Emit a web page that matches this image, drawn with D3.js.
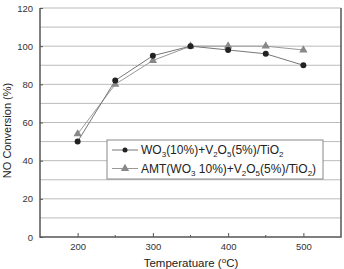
<!DOCTYPE html>
<html><head><meta charset="utf-8">
<script src="https://cdn.jsdelivr.net/npm/d3@7"></script>
<style>body{margin:0;background:#fff}svg{display:block;font-family:"Liberation Sans",Arial,sans-serif}</style>
</head><body><svg id="c" width="344" height="269"></svg>
<script>
const temps = [200, 250, 300, 350, 400, 450, 500];
const wo3 = [50, 82, 95, 100, 98, 96, 90];
const amt = [54, 80, 92.5, 100, 100, 100, 98];
const xTicks = [200, 300, 400, 500];
const xMinor = [250, 350, 450];
const yTicks = [0, 20, 40, 60, 80, 100, 120];

const svg = d3.select("#c");
const L = 40, R = 341, T = 8, B = 237;
const x = d3.scaleLinear().domain([150, 550]).range([L, R]);
const y = d3.scaleLinear().domain([0, 120]).range([B, T]);

// gridlines every 10
svg.append("g").selectAll("line").data(d3.range(10, 121, 10)).join("line")
  .attr("x1", L).attr("x2", R).attr("y1", d => y(d)).attr("y2", d => y(d))
  .attr("stroke", "#bbb").attr("stroke-width", 1);

// frame
svg.append("path").attr("d", `M${L},${T}V${B}H${R}V${T}`).attr("fill", "none")
  .attr("stroke", "#555").attr("stroke-width", 1.5);

// x axis
const xa = svg.append("g").attr("transform", `translate(0,${B})`)
  .call(d3.axisBottom(x).tickValues(xTicks).tickSize(-4).tickPadding(6));
xa.select(".domain").remove();
xa.selectAll("line").attr("stroke", "#555");
xa.selectAll("text").attr("font-size", 9.5).attr("fill", "#333");
svg.append("g").selectAll("line").data(xMinor).join("line")
  .attr("x1", d => x(d)).attr("x2", d => x(d)).attr("y1", B).attr("y2", B - 2)
  .attr("stroke", "#555");

// y axis
const ya = svg.append("g").attr("transform", `translate(${L},0)`)
  .call(d3.axisLeft(y).tickValues(yTicks).tickSize(-3).tickPadding(7));
ya.select(".domain").remove();
ya.selectAll("line").attr("stroke", "#555");
ya.selectAll("text").attr("font-size", 9.5).attr("fill", "#333");

// axis titles
const xt = svg.append("text").attr("x", 191).attr("y", 267)
  .attr("text-anchor", "middle").attr("font-size", 11.5).attr("fill", "#222");
xt.append("tspan").text("Temperatuare (");
xt.append("tspan").text("o").attr("font-size", 8).attr("dy", -4);
xt.append("tspan").text("C)").attr("dy", 4);

svg.append("text").attr("transform", `translate(11,${(T + B) / 2 + 8}) rotate(-90)`)
  .attr("text-anchor", "middle").attr("font-size", 11).attr("fill", "#222")
  .text("NO Conversion (%)");

// lines
const line = d3.line().x((d, i) => x(temps[i])).y(d => y(d));
svg.append("path").datum(amt).attr("d", line).attr("fill", "none").attr("stroke", "#999").attr("stroke-width", 1);
svg.append("path").datum(wo3).attr("d", line).attr("fill", "none").attr("stroke", "#777").attr("stroke-width", 1);

const tri = d3.symbol().type(d3.symbolTriangle).size(30);
svg.append("g").selectAll("path").data(amt).join("path")
  .attr("d", tri).attr("transform", (d, i) => `translate(${x(temps[i])},${y(d)})`).attr("fill", "#888");
svg.append("g").selectAll("circle").data(wo3).join("circle")
  .attr("cx", (d, i) => x(temps[i])).attr("cy", d => y(d)).attr("r", 3).attr("fill", "#222");

// legend
const lg = svg.append("g");
lg.append("rect").attr("x", 107).attr("y", 140).attr("width", 216).attr("height", 39)
  .attr("fill", "#fff").attr("stroke", "#888").attr("stroke-width", 1);
const items = [
  {c: "#777", m: "circle", parts: [["WO",0],["3",1],["(10%)+V",0],["2",1],["O",0],["5",1],["(5%)/TiO",0],["2",1]]},
  {c: "#999", m: "tri", parts: [["AMT(WO",0],["3",1],[" 10%)+V",0],["2",1],["O",0],["5",1],["(5%)/TiO",0],["2",1],[")",0]]}
];
items.forEach((it, k) => {
  const yy = 150 + k * 18.5;
  lg.append("line").attr("x1", 112).attr("x2", 138).attr("y1", yy).attr("y2", yy).attr("stroke", it.c);
  if (it.m === "circle") lg.append("circle").attr("cx", 125).attr("cy", yy).attr("r", 2.5).attr("fill", "#222");
  else lg.append("path").attr("d", tri).attr("transform", `translate(125,${yy})`).attr("fill", "#888");
  const t = lg.append("text").attr("x", 141).attr("y", yy + 4).attr("font-size", 12).attr("fill", "#222");
  let prevSub = 0;
  it.parts.forEach(([s, sub]) => {
    const ts = t.append("tspan").text(s);
    if (sub) ts.attr("font-size", 8);
    const dy = (sub ? 3 : 0) - (prevSub ? 3 : 0);
    if (dy) ts.attr("dy", dy);
    prevSub = sub;
  });
});
</script></body></html>
